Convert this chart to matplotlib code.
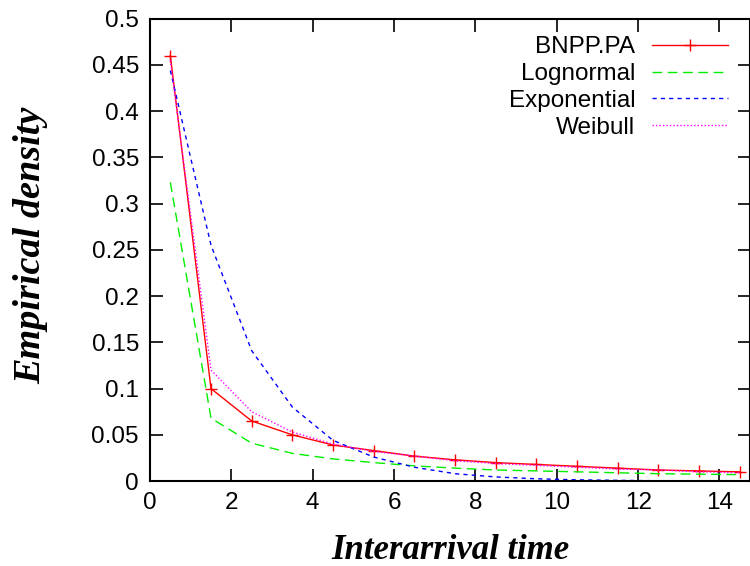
import numpy as np
import matplotlib
matplotlib.use("Agg")
import matplotlib.pyplot as plt

# bin centres of the interarrival histogram
x_vals = [0.5, 1.5, 2.5, 3.5, 4.5, 5.5, 6.5, 7.5, 8.5, 9.5, 10.5, 11.5, 12.5, 13.5, 14.5]

bnpp = [0.460, 0.100, 0.065, 0.050, 0.039, 0.033, 0.027, 0.023, 0.020,
        0.018, 0.016, 0.014, 0.012, 0.011, 0.010]
lognormal = [0.323, 0.068, 0.041, 0.030, 0.024, 0.020, 0.0165, 0.014, 0.012,
             0.011, 0.010, 0.009, 0.008, 0.0075, 0.007]
exponential = [0.444, 0.255, 0.141, 0.080, 0.044, 0.026, 0.015, 0.008, 0.0045,
               0.0025, 0.0014, 0.0008, 0.0004, 0.0002, 0.0001]
weibull = [0.455, 0.120, 0.075, 0.053, 0.040, 0.032, 0.027, 0.022, 0.019,
           0.017, 0.015, 0.013, 0.012, 0.010, 0.009]

x_ticks = [0, 2, 4, 6, 8, 10, 12, 14]
y_ticks = [0, 0.05, 0.1, 0.15, 0.2, 0.25, 0.3, 0.35, 0.4, 0.45, 0.5]
y_labels = ["0", "0.05", "0.1", "0.15", "0.2", "0.25", "0.3", "0.35", "0.4", "0.45", "0.5"]

plt.rcParams["font.family"] = ["Liberation Sans", "DejaVu Sans"]
serif = ["Liberation Serif", "DejaVu Serif"]

fig = plt.figure(figsize=(7.5, 5.66), dpi=100)
ax = fig.add_axes([0.2, 0.150, 0.8, 0.817])

ax.plot(x_vals, bnpp, color="#ff0000", lw=1.0, marker="+", ms=8, mew=1.0,
        label="BNPP.PA")
ax.plot(x_vals, lognormal, color="#00ee00", lw=1.0, dashes=(7, 4),
        label="Lognormal")
ax.plot(x_vals, exponential, color="#0000ff", lw=1.0, dashes=(3, 3),
        label="Exponential")
ax.plot(x_vals, weibull, color="#ff00ff", lw=1.0, dashes=(1, 1.5),
        label="Weibull")

ax.set_xlim(0, 14.75)
ax.set_ylim(0, 0.5)
ax.set_xticks(x_ticks)
ax.set_yticks(y_ticks)
ax.set_yticklabels(y_labels)
ax.tick_params(direction="in", length=9, width=1.2, labelsize=17.5,
               top=True, right=True, pad=8)
for s in ax.spines.values():
    s.set_linewidth(1.5)

ax.set_xlabel("Interarrival time", family=serif, fontsize=25,
              fontweight="bold", style="italic", labelpad=14)
ax.set_ylabel("Empirical density", family=serif, fontsize=27.5,
              fontweight="bold", style="italic", labelpad=31)
ax.yaxis.label.set_y(0.51)

ax.legend(loc="upper right", frameon=False, markerfirst=False, fontsize=17.5,
          handlelength=3.1, handletextpad=0.7, labelspacing=0.2,
          borderaxespad=0.3, borderpad=0.5,
          bbox_to_anchor=(1 - 3 / 600, 1 + 2 / 462))

fig.savefig("out.png", dpi=100, facecolor="white")
